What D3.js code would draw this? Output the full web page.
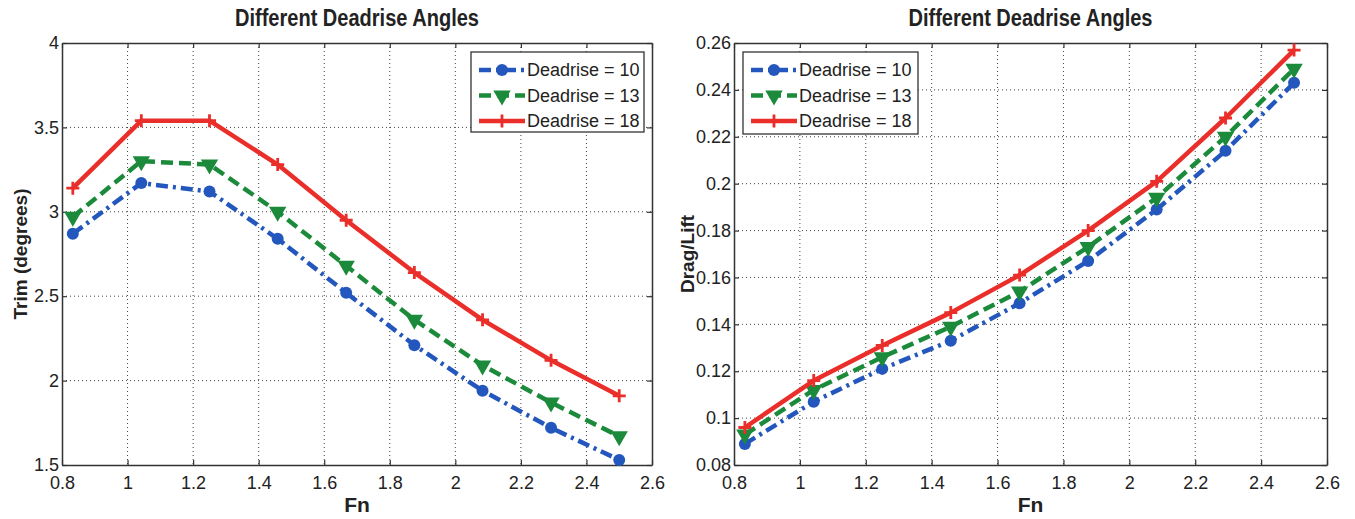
<!DOCTYPE html>
<html>
<head>
<meta charset="utf-8">
<script src="https://cdn.jsdelivr.net/npm/d3@7"></script>
<style>
    body { margin: 0; background: #fff; }
    svg text { font-family: "Liberation Sans", Arial, sans-serif; fill: #222; }
</style>
</head>
<body>
<div id="chart-div"></div>
<script>
// chart data
const fn = [0.833, 1.042, 1.25, 1.458, 1.667, 1.875, 2.083, 2.292, 2.5];

const trim10 = [2.87, 3.17, 3.12, 2.84, 2.52, 2.21, 1.94, 1.72, 1.53];
const trim13 = [2.97, 3.30, 3.28, 3.00, 2.68, 2.36, 2.09, 1.87, 1.67];
const trim18 = [3.14, 3.54, 3.54, 3.28, 2.95, 2.64, 2.36, 2.12, 1.91];

const dl10 = [0.089, 0.107, 0.121, 0.133, 0.149, 0.167, 0.189, 0.214, 0.243];
const dl13 = [0.093, 0.112, 0.126, 0.139, 0.154, 0.173, 0.194, 0.220, 0.249];
const dl18 = [0.096, 0.116, 0.131, 0.145, 0.161, 0.180, 0.201, 0.228, 0.257];

const seriesNames = ['Deadrise = 10', 'Deadrise = 13', 'Deadrise = 18'];

const fnTicks = [0.8, 1, 1.2, 1.4, 1.6, 1.8, 2, 2.2, 2.4, 2.6];
const trimTicks = [1.5, 2, 2.5, 3, 3.5, 4];
const dlTicks = [0.08, 0.1, 0.12, 0.14, 0.16, 0.18, 0.2, 0.22, 0.24, 0.26];

window.Vis = window.Vis || {};

Vis.init = function() {
    Vis.width = 1355;
    Vis.height = 519;

    Vis.styles = [
        {color: '#2457bd', dash: '12,5,3,5', marker: 'circle'},
        {color: '#1b8a3a', dash: '12,6', marker: 'triangle'},
        {color: '#ea2f2b', dash: null, marker: 'plus'}
    ];

    Vis.svg = d3.select('#chart-div').append('svg')
                .attr('width', Vis.width)
                .attr('height', Vis.height);

    Vis.drawPanel({
        left: 62, right: 652, top: 43, bottom: 465,
        ydomain: [1.5, 4], yticks: trimTicks,
        series: [trim10, trim13, trim18],
        ylabel: 'Trim (degrees)', ylabelX: 27,
        legend: {x: 471, y: 52, w: 173, h: 80}
    });

    Vis.drawPanel({
        left: 734, right: 1327, top: 43, bottom: 465,
        ydomain: [0.08, 0.26], yticks: dlTicks,
        series: [dl10, dl13, dl18],
        ylabel: 'Drag/Lift', ylabelX: 694,
        legend: {x: 743, y: 52, w: 175, h: 82}
    });
};

Vis.drawPanel = function(p) {
    let g = Vis.svg.append('g');

    let x = d3.scaleLinear().domain([0.8, 2.6]).range([p.left, p.right]);
    let y = d3.scaleLinear().domain(p.ydomain).range([p.bottom, p.top]);

    // dotted grid
    let grid = g.append('g')
                .attr('stroke', '#444')
                .attr('stroke-width', 1)
                .attr('stroke-dasharray', '1,3');
    grid.selectAll('.gx').data(fnTicks.slice(1, -1)).enter()
        .append('line')
        .attr('x1', d => x(d)).attr('x2', d => x(d))
        .attr('y1', p.top).attr('y2', p.bottom);
    grid.selectAll('.gy').data(p.yticks.slice(1, -1)).enter()
        .append('line')
        .attr('x1', p.left).attr('x2', p.right)
        .attr('y1', d => y(d)).attr('y2', d => y(d));

    // axes, ticks pointing inwards on all four sides
    let fmt = d => String(d);
    let axes = [
        g.append('g').attr('transform', 'translate(0,' + p.bottom + ')')
            .call(d3.axisBottom(x).tickValues(fnTicks).tickFormat(fmt)
                    .tickSizeInner(-5).tickSizeOuter(0).tickPadding(11)),
        g.append('g').attr('transform', 'translate(' + p.left + ',0)')
            .call(d3.axisLeft(y).tickValues(p.yticks).tickFormat(fmt)
                    .tickSizeInner(-5).tickSizeOuter(0).tickPadding(3)),
        g.append('g').attr('transform', 'translate(0,' + p.top + ')')
            .call(d3.axisTop(x).tickValues(fnTicks).tickFormat('')
                    .tickSizeInner(-5).tickSizeOuter(0)),
        g.append('g').attr('transform', 'translate(' + p.right + ',0)')
            .call(d3.axisRight(y).tickValues(p.yticks).tickFormat('')
                    .tickSizeInner(-5).tickSizeOuter(0))
    ];
    axes.forEach(function(a) {
        a.select('.domain').attr('stroke', '#333').attr('stroke-width', 1.5);
        a.selectAll('.tick line').attr('stroke', '#333').attr('stroke-width', 1.2);
        a.selectAll('.tick text')
            .style('font-family', '"Liberation Sans", Arial, sans-serif')
            .style('font-size', '18px').attr('fill', '#222');
    });

    // titles
    let cx = (p.left + p.right) / 2;
    g.append('text')
        .attr('x', cx).attr('y', 26)
        .attr('text-anchor', 'middle')
        .style('font-size', '23px').style('font-weight', 'bold')
        .attr('textLength', 244).attr('lengthAdjust', 'spacingAndGlyphs')
        .text('Different Deadrise Angles');
    g.append('text')
        .attr('x', cx).attr('y', 512)
        .attr('text-anchor', 'middle')
        .style('font-size', '21px').style('font-weight', 'bold')
        .text('Fn');
    g.append('text')
        .attr('transform', 'translate(' + p.ylabelX + ',' + ((p.top + p.bottom) / 2) + ') rotate(-90)')
        .attr('text-anchor', 'middle')
        .style('font-size', '19px').style('font-weight', 'bold')
        .text(p.ylabel);

    // series lines + markers
    let line = d3.line().x((d, i) => x(fn[i])).y(d => y(d));
    p.series.forEach(function(vals, k) {
        let st = Vis.styles[k];
        g.append('path')
            .datum(vals)
            .attr('d', line)
            .attr('fill', 'none')
            .attr('stroke', st.color)
            .attr('stroke-width', 4.5)
            .attr('stroke-linejoin', 'round')
            .attr('stroke-dasharray', st.dash);
        vals.forEach(function(v, i) {
            Vis.drawMarker(g, st, x(fn[i]), y(v));
        });
    });

    // legend
    let L = p.legend;
    let lg = g.append('g');
    lg.append('rect')
        .attr('x', L.x).attr('y', L.y)
        .attr('width', L.w).attr('height', L.h)
        .attr('fill', '#fff').attr('stroke', '#333').attr('stroke-width', 1.3);
    seriesNames.forEach(function(name, k) {
        let st = Vis.styles[k];
        let ry = L.y + 18 + k * 25.5;
        lg.append('line')
            .attr('x1', L.x + 8).attr('x2', L.x + 54)
            .attr('y1', ry).attr('y2', ry)
            .attr('stroke', st.color).attr('stroke-width', 4.5)
            .attr('stroke-dasharray', st.dash);
        Vis.drawMarker(lg, st, L.x + 31, ry);
        lg.append('text')
            .attr('x', L.x + 56).attr('y', ry)
            .attr('dy', '0.35em')
            .style('font-size', '18px')
            .text(name);
    });
};

Vis.drawMarker = function(g, st, px, py) {
    if (st.marker === 'circle') {
        g.append('circle')
            .attr('cx', px).attr('cy', py).attr('r', 6)
            .attr('fill', st.color);
    } else if (st.marker === 'triangle') {
        g.append('path')
            .attr('d', d3.symbol().type(d3.symbolTriangle).size(130)())
            .attr('transform', 'translate(' + px + ',' + py + ') rotate(180)')
            .attr('fill', st.color);
    } else {
        g.append('path')
            .attr('d', 'M-6.5,0H6.5M0,-6.5V6.5')
            .attr('transform', 'translate(' + px + ',' + py + ')')
            .attr('stroke', st.color).attr('stroke-width', 2.8)
            .attr('fill', 'none');
    }
};

document.addEventListener('DOMContentLoaded', Vis.init);
</script>
</body>
</html>
